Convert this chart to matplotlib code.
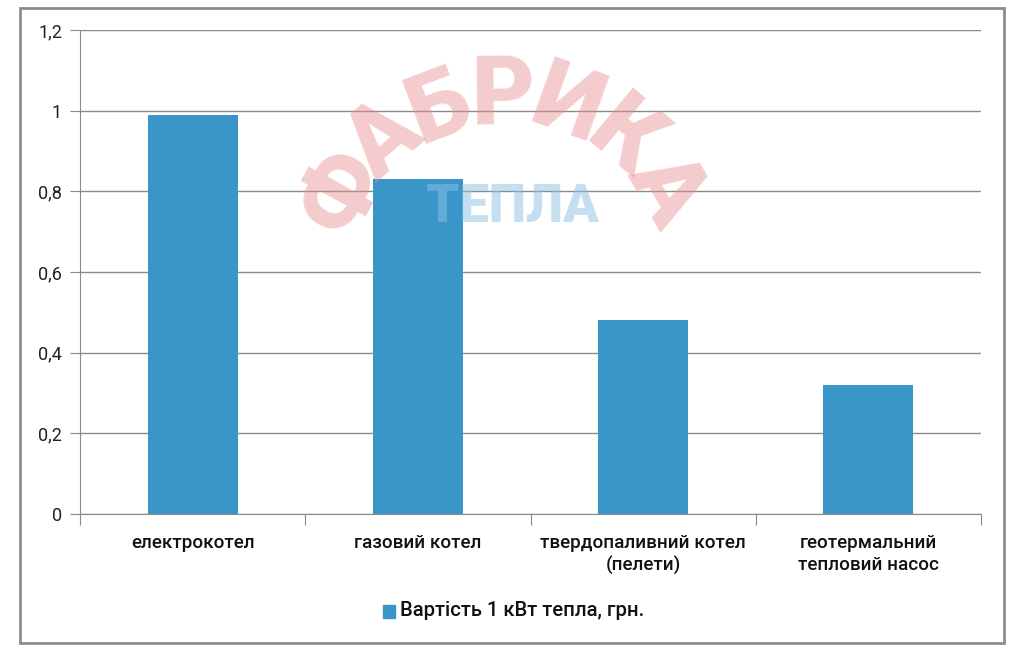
import numpy as np
import matplotlib
matplotlib.use("Agg")
import matplotlib.pyplot as plt
from matplotlib.ticker import FuncFormatter, FixedLocator
from matplotlib.patches import Rectangle

categories = ["електрокотел", "газовий котел", "твердопаливний котел\n(пелети)",
              "геотермальний\nтепловий насос"]
values = [0.99, 0.83, 0.48, 0.32]
series_name = "Вартість 1 кВт тепла, грн."
yticks = [0, 0.2, 0.4, 0.6, 0.8, 1.0, 1.2]

bar_color = "#3a96c8"
grid_color = "#8a8a8a"
label_font = ["Roboto", "DejaVu Sans"]

fig = plt.figure(figsize=(10.22, 6.48), dpi=100)
W, H = 1022, 648

# outer chart frame
fig.patches.append(Rectangle((20 / W, 1 - 643 / H), 984 / W, 635 / H,
                             transform=fig.transFigure, fill=False,
                             edgecolor="#8c8c8c", linewidth=2))

ax = fig.add_axes([80 / W, 1 - 514 / H, 901 / W, 484 / H])
x = np.arange(len(categories))
ax.bar(x, values, width=0.4, color=bar_color, zorder=2)

ax.set_xlim(-0.5, len(categories) - 0.5)
ax.set_ylim(0, 1.2)
ax.set_yticks(yticks)
ax.yaxis.set_major_formatter(FuncFormatter(lambda v, p: f"{v:g}".replace(".", ",")))
ax.yaxis.grid(True, color=grid_color, linewidth=1, zorder=0)
ax.set_axisbelow(True)

for s in ["top", "right"]:
    ax.spines[s].set_visible(False)
ax.spines["left"].set_color(grid_color)
ax.spines["bottom"].set_color(grid_color)
ax.tick_params(axis="y", length=7, color=grid_color, labelsize=13, pad=6,
               labelcolor="#222222")
for lab in ax.get_yticklabels():
    lab.set_family(label_font)

# ticks between categories, labels at centers
ax.xaxis.set_major_locator(FixedLocator(np.arange(-0.5, len(categories), 1.0)))
ax.xaxis.set_major_formatter(FuncFormatter(lambda v, p: ""))
ax.tick_params(axis="x", length=8, color=grid_color)
for i, c in enumerate(categories):
    ax.text(i, -0.05, c, ha="center", va="top", fontsize=13.6,
            family=label_font, fontweight="medium", color="#111111",
            linespacing=1.25, transform=ax.transData, clip_on=False)

# legend
fig.patches.append(Rectangle((383 / W, 1 - 618 / H), 12 / W, 13 / H,
                             transform=fig.transFigure, color=bar_color))
fig.text(400 / W, 1 - 611 / H, series_name, ha="left", va="center",
         fontsize=14.6, family=label_font, fontweight="medium", color="#111111")

# watermark
word = "ФАБРИКА"
cx, cy, r = 505, 282, 185
angles = np.linspace(151, 30, len(word))
for ch, a in zip(word, angles):
    t = np.deg2rad(a)
    px = cx + r * np.cos(t)
    py = cy - r * np.sin(t)
    fig.text(px / W, 1 - py / H, ch, ha="center", va="center", fontsize=70,
             fontweight="black", family=["Roboto", "DejaVu Sans"], color="#ea8e92",
             alpha=0.45, rotation=a - 90, zorder=5)
fig.text(512 / W, 1 - 207 / H, "ТЕПЛА", ha="center", va="center", fontsize=38,
         fontweight="black", family=["Roboto", "DejaVu Sans"], color="#8cc0e4",
         alpha=0.5, zorder=5)

fig.savefig("out.png", dpi=100)
